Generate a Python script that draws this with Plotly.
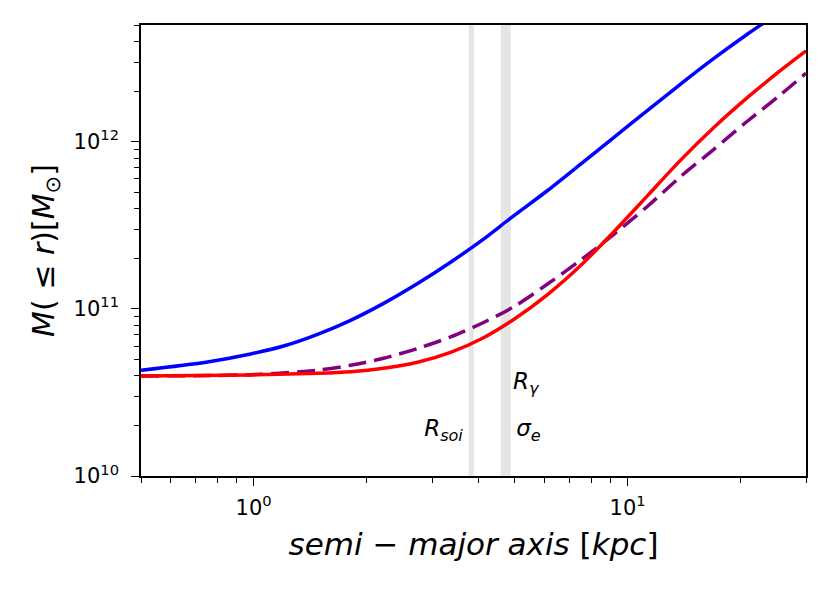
import plotly.graph_objects as go

# enclosed mass profiles (r in kpc, M in Msun)
r_blue = [0.5, 0.753, 0.982, 1.203, 1.483, 1.817, 2.227, 2.745, 3.363, 4.12, 4.87, 6.11, 7.49, 9.18,
          11.31, 13.86, 16.98, 20.9, 23.1, 30.0]
m_blue = [4.3e10, 4.82e10, 5.38e10, 6.0e10, 7.05e10, 8.55e10, 1.08e11, 1.42e11, 1.905e11, 2.62e11,
          3.5e11, 5.12e11, 7.36e11, 1.062e12, 1.545e12, 2.22e12, 3.15e12, 4.41e12, 5.14e12, 7.6e12]

r_red = [0.5, 0.982, 1.483, 1.817, 2.227, 2.745, 3.363, 4.12, 4.96, 6.11, 7.49, 9.18, 11.31, 13.86,
         16.98, 20.9, 25.6, 30.0]
m_red = [3.97e10, 4.03e10, 4.12e10, 4.21e10, 4.42e10, 4.8e10, 5.5e10, 6.73e10, 8.65e10, 1.22e11,
         1.82e11, 2.89e11, 4.77e11, 7.78e11, 1.216e12, 1.84e12, 2.67e12, 3.51e12]

r_purple = [0.5, 0.982, 1.483, 1.817, 2.227, 2.745, 3.363, 4.12, 4.96, 6.11, 7.49, 9.01, 11.31, 13.86,
            16.98, 20.9, 25.6, 30.0]
m_purple = [3.97e10, 4.04e10, 4.3e10, 4.6e10, 5.07e10, 5.8e10, 6.8e10, 8.3e10, 1.03e11, 1.41e11,
            1.96e11, 2.70e11, 4.12e11, 6.2e11, 9.0e11, 1.33e12, 1.91e12, 2.58e12]

# shaded radii (start, end) in kpc
bands = [(3.76, 3.88), (4.58, 4.87)]

# text labels
label_text = ["<i>R<sub>soi</sub></i>", "<i>R<sub>γ</sub></i>", "<i>σ<sub>e</sub></i>"]
label_x = [3.22, 5.34, 5.43]
label_y = [1.88e10, 3.6e10, 1.88e10]

x_major = [1, 10]
x_major_text = ["10<sup>0</sup>", "10<sup>1</sup>"]
x_minor = [0.5, 0.6, 0.7, 0.8, 0.9, 2, 3, 4, 5, 6, 7, 8, 9, 20, 30]
y_major = [1e10, 1e11, 1e12]
y_major_text = ["10<sup>10</sup>", "10<sup>11</sup>", "10<sup>12</sup>"]
y_minor = [k * 1e10 for k in range(2, 10)] + [k * 1e11 for k in range(2, 10)] + [k * 1e12 for k in range(2, 6)]

font = "DejaVu Sans"

fig = go.Figure()

for x0, x1 in bands:
    fig.add_trace(go.Scatter(
        x=[x0, x1, x1, x0, x0], y=[1e9, 1e9, 1e14, 1e14, 1e9],
        mode="lines", fill="toself", fillcolor="#e5e5e5",
        line=dict(width=0), hoverinfo="skip", showlegend=False,
    ))

fig.add_trace(go.Scatter(x=r_blue, y=m_blue, mode="lines",
                         line=dict(color="blue", width=3.5, shape="spline", smoothing=0.8),
                         showlegend=False))
fig.add_trace(go.Scatter(x=r_purple, y=m_purple, mode="lines",
                         line=dict(color="purple", width=3.5, dash="18px,8px", shape="spline", smoothing=0.8),
                         showlegend=False))
fig.add_trace(go.Scatter(x=r_red, y=m_red, mode="lines",
                         line=dict(color="red", width=3.5, shape="spline", smoothing=0.8),
                         showlegend=False))

fig.add_trace(go.Scatter(x=label_x, y=label_y, mode="text", text=label_text,
                         textfont=dict(family=font, size=23, color="black"),
                         showlegend=False, hoverinfo="skip"))

axis_common = dict(
    type="log", showgrid=False, zeroline=False,
    showline=True, linecolor="black", linewidth=1.5, mirror=True,
    ticks="outside", ticklen=8, tickwidth=1.3, tickcolor="black",
    tickfont=dict(family=font, size=21, color="black"),
    automargin=False,
)

fig.update_xaxes(
    **axis_common,
    range=[-0.30103, 1.4771],
    tickmode="array", tickvals=x_major, ticktext=x_major_text,
    ticklabelstandoff=4,
    minor=dict(tickmode="array", tickvals=x_minor, ticks="outside", ticklen=5, tickwidth=1, tickcolor="black"),
    title=dict(text="<i>semi</i> − <i>major axis</i> [<i>kpc</i>]", font=dict(family=font, size=31, color="black"),
               standoff=14),
)
fig.update_yaxes(
    **axis_common,
    range=[10, 12.7],
    tickmode="array", tickvals=y_major, ticktext=y_major_text,
    ticklabelstandoff=8,
    minor=dict(tickmode="array", tickvals=y_minor, ticks="outside", ticklen=5, tickwidth=1, tickcolor="black"),
    title=dict(text="<i>M</i>( ≤ <i>r</i>)[<i>M</i><sub>⊙</sub>]", font=dict(family=font, size=30, color="black"),
               standoff=10),
)

fig.update_layout(
    width=831, height=598,
    margin=dict(l=133, r=33, t=17, b=130),
    plot_bgcolor="white", paper_bgcolor="white",
)

fig.write_html("out.html")
